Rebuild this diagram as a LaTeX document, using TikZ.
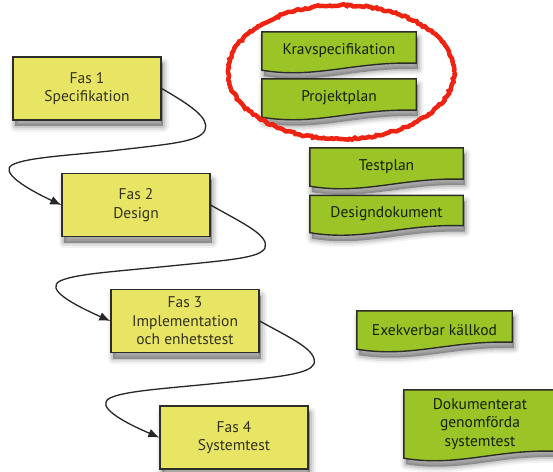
\documentclass[tikz,border=0pt]{standalone}
\usepackage{fontspec}
\setmainfont{PT Sans}
\usetikzlibrary{arrows.meta,calc,decorations.pathmorphing}
\pgfdeclarelayer{bottom}
\pgfdeclarelayer{background}
\pgfsetlayers{bottom,background,main}
\definecolor{boxyellow}{RGB}{233,229,100}
\definecolor{docgreen}{RGB}{155,196,38}
\definecolor{edgegray}{RGB}{45,45,40}
\definecolor{ytext}{RGB}{50,50,30}
\definecolor{gtext}{RGB}{22,32,4}
\definecolor{ringred}{RGB}{238,35,18}
\tikzset{
  shadowpart/.style={draw=black, line join=round, draw opacity=#1, transform canvas={shift={(2pt,-6pt)}}},
  softshadow/.style={
    preaction={shadowpart=0.05, line width=11pt},
    preaction={shadowpart=0.07, line width=7pt},
    preaction={shadowpart=0.09, line width=3.5pt},
    preaction={shadowpart=0.0, line width=0pt, fill=black, fill opacity=0.3}},
  txt/.style={font=\fontsize{15.5}{18.5}\selectfont},
  phase/.style={txt, draw=edgegray, line width=1.4pt, fill=boxyellow, minimum width=148pt, minimum height=63pt,
    inner sep=0pt, align=center, text=ytext, softshadow},
  doctext/.style={txt, inner sep=0pt, align=center, text=gtext},
  docfill/.style={draw=edgegray, line width=1.4pt, fill=docgreen, softshadow},
  flow/.style={draw=black!85, line width=1.3pt, -{Latex[length=11pt,width=9pt]}},
}
\newcommand\docshape[1]{%
  \begin{pgfonlayer}{background}
  \path[docfill] (#1.north west) -- (#1.north east) -- ($(#1.south east)+(0,-7)$)
    .. controls ($(#1.south west)!0.6!(#1.south east)+(0,-9)$) and ($(#1.south west)!0.35!(#1.south east)+(0,9)$)
    .. (#1.south west) -- cycle;
  \end{pgfonlayer}}
\begin{document}
\begin{tikzpicture}[x=1pt,y=-1pt]
\clip (0,0) rectangle (553,471);
\begin{pgfonlayer}{bottom}
\fill[white] (0,0) rectangle (553,471);
\end{pgfonlayer}
% phases
\node[phase] (f1) at (87,88.5) {Fas 1\\Specifikation};
\node[phase] (f2) at (136,205) {Fas 2\\Design};
\node[phase] (f3) at (185,321) {Fas 3\\Implementation\\och enhetstest};
\node[phase] (f4) at (234,437.5) {Fas 4\\Systemtest};
% documents
\node[doctext, minimum width=154pt, minimum height=38pt] (krav) at (339,51) {Kravspecifikation};
\docshape{krav}
\node[doctext, minimum width=154pt, minimum height=38pt] (proj) at (339,98) {Projektplan};
\docshape{proj}
\node[doctext, minimum width=153pt, minimum height=38pt] (test) at (386.5,167) {Testplan};
\docshape{test}
\node[doctext, minimum width=153pt, minimum height=37pt] (desd) at (386.5,214) {Designdokument};
\docshape{desd}
\node[doctext, minimum width=155pt, minimum height=38pt] (exe) at (434.5,330) {Exekverbar källkod};
\docshape{exe}
\node[doctext, minimum width=152pt, minimum height=68pt] (dok) at (480,424) {Dokumenterat\\genomförda\\systemtest};
\docshape{dok}
% connectors
\draw[flow] (f1.east) .. controls (190,105) and (210,118) .. (205,130)
  .. controls (200,142) and (170,144) .. (110,151)
  .. controls (60,156) and (25,158) .. (12,165)
  .. controls (0,172) and (25,188) .. (f2.west);
\draw[flow] (f2.east) .. controls (240,222) and (270,235) .. (265,248)
  .. controls (260,258) and (230,260) .. (170,266)
  .. controls (110,272) and (75,274) .. (60,281)
  .. controls (45,289) and (72,304) .. (f3.west);
\draw[flow] (f3.east) .. controls (290,338) and (318,350) .. (314,364)
  .. controls (309,374) and (280,377) .. (220,383)
  .. controls (160,389) and (125,391) .. (110,398)
  .. controls (95,406) and (121,421) .. (f4.west);
% red ring
\coordinate (ring) at (341,72);
\draw[ringred, line width=4.5pt, decorate, decoration={random steps, segment length=2.5pt, amplitude=1pt}]
  (ring) ellipse [x radius=113, y radius=67];
\end{tikzpicture}
\end{document}
